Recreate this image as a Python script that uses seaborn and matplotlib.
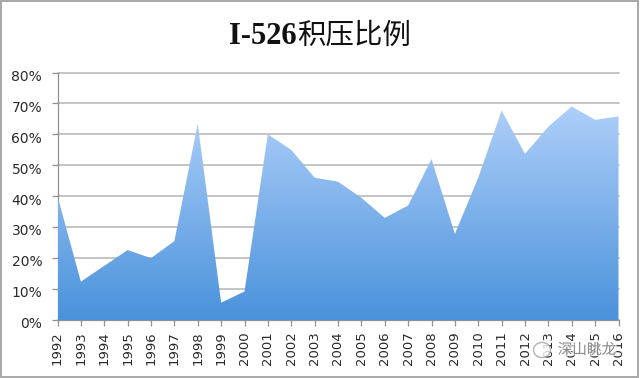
import numpy as np
import matplotlib
matplotlib.use("Agg")
import matplotlib.pyplot as plt
import matplotlib.patches as patches
import matplotlib.patheffects as pe
from matplotlib.colors import LinearSegmentedColormap
from matplotlib.transforms import ScaledTranslation
import seaborn as sns

years = [str(y) for y in range(1992, 2017)]
backlog_pct = [40, 12.4, 17.5, 22.6, 20, 25.5, 63.4, 5.6, 9.2, 60, 55, 46, 44.7,
               39.5, 33, 37, 52, 27.8, 46, 67.7, 53.7, 62.5, 69, 64.7, 65.8]
pct_ticks = [0, 10, 20, 30, 40, 50, 60, 70, 80]
title_latin = "I-526"
title_cjk = "积压比例"
watermark = "深山眺龙"

sns.set_theme(style="white")
plt.rcParams['font.family'] = ['DejaVu Sans', 'Noto Sans CJK SC']

fig = plt.figure(figsize=(6.4, 3.78), dpi=100, facecolor="white")
ax = fig.add_axes([57.5 / 640, 1 - 320 / 378, 561 / 640, 247.5 / 378])

# the line stays invisible, only the area under it gets the gradient
sns.lineplot(x=list(range(len(years))), y=backlog_pct, ax=ax, color="#a9cbf9", alpha=0, zorder=1)
area = ax.fill_between(range(len(years)), backlog_pct, 0, color="none", zorder=3)

grad = LinearSegmentedColormap.from_list("blues", ["#aecff9", "#4a92db"])
img = ax.imshow(np.linspace(0, 1, 256).reshape(-1, 1), cmap=grad, aspect="auto",
                extent=(0, len(years) - 1, 0, max(backlog_pct)), zorder=3)
img.set_clip_path(area.get_paths()[0], transform=ax.transData)

ax.set_xlim(0, len(years) - 1)
ax.set_ylim(0, 80)
ax.set_xticks(range(len(years)))
ax.set_xticklabels(years, rotation=90)
ax.set_yticks(pct_ticks)
ax.set_yticklabels([f"{p}%" for p in pct_ticks])
ax.grid(axis="y", color="#b4b4b4", lw=1.1, zorder=0)
ax.set_axisbelow(True)
# top gridline sits on the axes edge, don't let it get clipped to half width
for line in ax.get_ygridlines():
    line.set_clip_on(False)
ax.tick_params(axis="x", length=4, width=0.9, color="#909090", labelsize=9.5,
               labelcolor="#2a2a2a", bottom=True, pad=4)
ax.tick_params(axis="y", length=4, width=0.9, color="#909090", labelsize=10,
               labelcolor="#2a2a2a", left=True, pad=7)
# y labels sit a little under their gridlines
nudge = ScaledTranslation(0, -2 / 72, fig.dpi_scale_trans)
for lab in ax.get_yticklabels():
    lab.set_transform(lab.get_transform() + nudge)
for side in ["top", "right"]:
    ax.spines[side].set_visible(False)
for side in ["left", "bottom"]:
    ax.spines[side].set_color("#909090")
    ax.spines[side].set_linewidth(0.9)

fig.text(297 / 640, 1 - 36 / 378, title_latin, ha="right", va="center", fontsize=22,
         fontweight="bold", color="#111111", family=['Liberation Serif'])
fig.text(297 / 640, 1 - 36 / 378, title_cjk, ha="left", va="center", fontsize=20.5,
         color="#111111", family=['Noto Sans CJK SC'])

# watermark: small chat icon plus name, with a pale halo over the tick labels
halo = [pe.withStroke(linewidth=2, foreground="white", alpha=0.7)]
icon_x, icon_y = 542 / 640, 1 - 350 / 378
fig.add_artist(patches.Ellipse((icon_x, icon_y), 17 / 640, 15 / 378, facecolor="white", alpha=0.8,
                               edgecolor="#a0a0a0", lw=1, transform=fig.transFigure, zorder=5))
fig.text(587 / 640, 1 - 350 / 378, watermark, ha="center", va="center", fontsize=10.5,
         color="#8a8a8a", family=['Noto Sans CJK SC', 'DejaVu Sans'], zorder=6, path_effects=halo)

# gray frame around the whole picture
fig.add_artist(patches.Rectangle((1 / 640, 1 - 376.5 / 378), 636.5 / 640, 375.5 / 378, fill=False,
                                 edgecolor="#a8a8a8", lw=1.4, transform=fig.transFigure))

fig.savefig("out.png", dpi=100)
